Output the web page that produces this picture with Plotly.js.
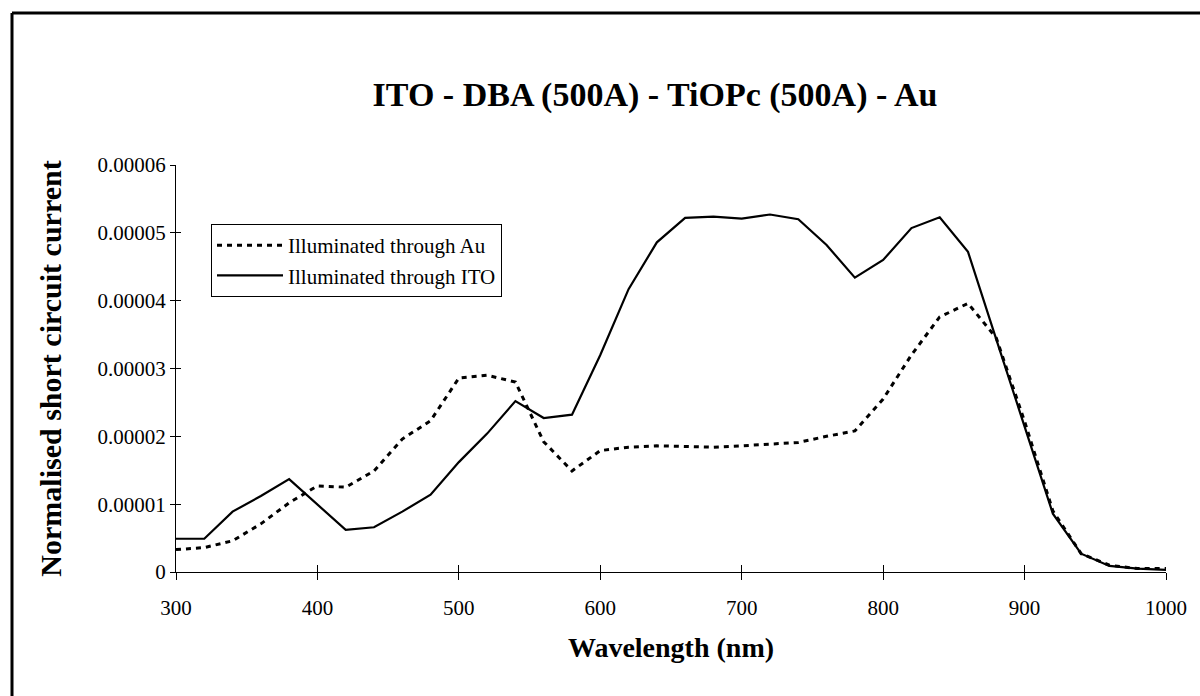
<!DOCTYPE html>
<html>
<head>
<meta charset="utf-8">
<script src="https://cdn.plot.ly/plotly-3.0.1.min.js"></script>
<style>
  html, body { margin: 0; padding: 0; background: #ffffff; }
  #chart { width: 1200px; height: 696px; }
</style>
</head>
<body>
<div id="chart"></div>
<script>
// ---- data ----
const chartTitle = "ITO - DBA (500A) - TiOPc (500A) - Au";
const xTitle = "Wavelength (nm)";
const yTitle = "Normalised short circuit current";

const wavelength = [300, 320, 340, 360, 380, 400, 420, 440, 460, 480,
                    500, 520, 540, 560, 580, 600, 620, 640, 660, 680,
                    700, 720, 740, 760, 780, 800, 820, 840, 860, 880,
                    900, 920, 940, 960, 980, 1000];

const seriesAuName = "Illuminated through Au";
const seriesAu = [3.3e-6, 3.6e-6, 4.6e-6, 7.1e-6, 1.02e-5, 1.27e-5, 1.25e-5, 1.49e-5, 1.96e-5, 2.23e-5,
                  2.86e-5, 2.90e-5, 2.80e-5, 1.92e-5, 1.49e-5, 1.79e-5, 1.84e-5, 1.86e-5, 1.85e-5, 1.84e-5,
                  1.86e-5, 1.89e-5, 1.91e-5, 2.00e-5, 2.08e-5, 2.55e-5, 3.20e-5, 3.76e-5, 3.96e-5, 3.45e-5,
                  2.22e-5, 9.0e-6, 2.7e-6, 1.0e-6, 5.0e-7, 5.0e-7];

const seriesITOName = "Illuminated through ITO";
const seriesITO = [4.9e-6, 4.9e-6, 8.9e-6, 1.12e-5, 1.37e-5, 1.00e-5, 6.2e-6, 6.6e-6, 8.9e-6, 1.14e-5,
                   1.62e-5, 2.04e-5, 2.52e-5, 2.27e-5, 2.32e-5, 3.20e-5, 4.17e-5, 4.86e-5, 5.22e-5, 5.24e-5,
                   5.21e-5, 5.27e-5, 5.20e-5, 4.82e-5, 4.34e-5, 4.60e-5, 5.07e-5, 5.23e-5, 4.72e-5, 3.43e-5,
                   2.15e-5, 8.6e-6, 2.7e-6, 9.0e-7, 5.0e-7, 3.0e-7];

const xTickVals = [300, 400, 500, 600, 700, 800, 900, 1000];
const xTickLabels = ["300", "400", "500", "600", "700", "800", "900", "1000"];
const yTickVals = [0, 0.00001, 0.00002, 0.00003, 0.00004, 0.00005, 0.00006];
const yTickLabels = ["0", "0.00001", "0.00002", "0.00003", "0.00004", "0.00005", "0.00006"];

// ---- styling ----
const serif = "Liberation Serif, Times New Roman, serif";
const xRange = [300, 1000];
const yRange = [0, 0.00006];

const traces = [
  {
    x: wavelength, y: seriesAu, name: seriesAuName,
    type: "scatter", mode: "lines",
    line: { color: "#000000", width: 3, dash: "5px,5px" },
    hoverinfo: "skip"
  },
  {
    x: wavelength, y: seriesITO, name: seriesITOName,
    type: "scatter", mode: "lines",
    line: { color: "#000000", width: 2.2 },
    hoverinfo: "skip"
  },
  // invisible carrier so the inner-tick overlay axes are drawn
  {
    x: wavelength, y: seriesITO, xaxis: "x2", yaxis: "y2",
    type: "scatter", mode: "lines",
    line: { color: "rgba(0,0,0,0)", width: 0 },
    showlegend: false, hoverinfo: "skip"
  }
];

// frame (top and left borders of the scanned figure box)
const plotL = 176, plotW = 990, plotT = 165, plotH = 407;
function px2x(p) { return (p - plotL) / plotW; }
function px2y(p) { return (plotT + plotH - p) / plotH; }

const layout = {
  width: 1200, height: 696,
  paper_bgcolor: "#ffffff", plot_bgcolor: "#ffffff",
  margin: { l: plotL, r: 1200 - plotL - plotW, t: plotT, b: 696 - plotT - plotH, pad: 0 },
  font: { family: serif, color: "#000000", size: 21 },
  title: {
    text: chartTitle,
    font: { family: serif, size: 34, color: "#000000", weight: "bold" },
    x: 655 / 1200, xref: "container", xanchor: "center",
    y: 1 - 94 / 696, yref: "container", yanchor: "middle"
  },
  showlegend: true,
  legend: {
    x: px2x(211), y: px2y(224), xanchor: "left", yanchor: "top",
    bgcolor: "#ffffff", bordercolor: "#000000", borderwidth: 1,
    font: { family: serif, size: 21, color: "#000000" },
    itemwidth: 66, tracegroupgap: 0
  },
  xaxis: {
    range: xRange, tickvals: xTickVals, ticktext: xTickLabels,
    showline: true, linecolor: "#000000", linewidth: 1,
    ticks: "outside", ticklen: 7, tickcolor: "#000000", tickwidth: 1,
    ticklabelstandoff: 10,
    showgrid: false, zeroline: false,
    tickfont: { family: serif, size: 21, color: "#000000" },
    title: { text: xTitle, font: { family: serif, size: 28, color: "#000000", weight: "bold" }, standoff: 18 },
    automargin: false
  },
  yaxis: {
    range: yRange, tickvals: yTickVals, ticktext: yTickLabels,
    showline: true, linecolor: "#000000", linewidth: 1,
    ticks: "outside", ticklen: 5, tickcolor: "#000000", tickwidth: 1,
    showgrid: false, zeroline: false,
    tickfont: { family: serif, size: 21, color: "#000000" },
    title: { text: yTitle, font: { family: serif, size: 30, color: "#000000", weight: "bold" }, standoff: 27 },
    automargin: false
  },
  xaxis2: {
    overlaying: "x", anchor: "y2", range: xRange, tickvals: xTickVals,
    ticks: "inside", ticklen: 7, tickcolor: "#000000", tickwidth: 1,
    showticklabels: false, showgrid: false, zeroline: false, showline: false, side: "bottom"
  },
  yaxis2: {
    overlaying: "y", anchor: "x2", range: yRange, tickvals: yTickVals,
    ticks: "inside", ticklen: 5, tickcolor: "#000000", tickwidth: 1,
    showticklabels: false, showgrid: false, zeroline: false, showline: false, side: "left"
  },
  shapes: [
    { type: "line", xref: "paper", yref: "paper",
      x0: px2x(12), x1: px2x(1200), y0: px2y(13), y1: px2y(13),
      line: { color: "#000000", width: 3 } },
    { type: "line", xref: "paper", yref: "paper",
      x0: px2x(12), x1: px2x(12), y0: px2y(13), y1: px2y(696),
      line: { color: "#000000", width: 3 } }
  ]
};

Plotly.newPlot("chart", traces, layout, { staticPlot: true, displayModeBar: false });
</script>
</body>
</html>
